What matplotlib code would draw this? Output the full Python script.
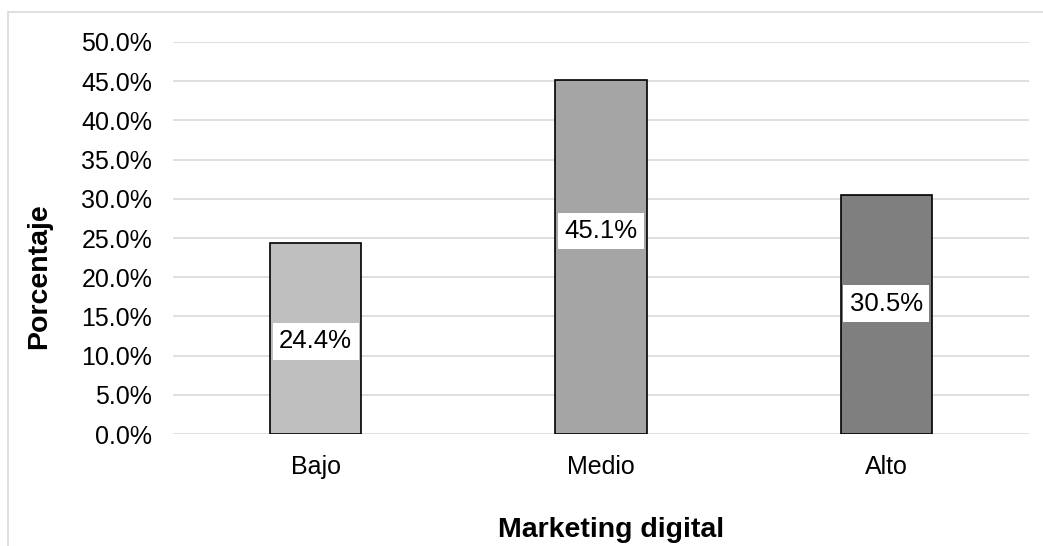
import matplotlib.pyplot as plt
from matplotlib.patches import Rectangle
from matplotlib.ticker import PercentFormatter

plt.rcParams['font.family'] = ['Liberation Sans', 'DejaVu Sans']

categories = ['Bajo', 'Medio', 'Alto']
values = [24.4, 45.1, 30.5]
colors = ['#BFBFBF', '#A5A5A5', '#7F7F7F']
# vertical centre of each data label (Excel placed them a bit off-centre)
label_pos = [11.8, 25.9, 16.6]

fig = plt.figure(figsize=(10.43, 5.46), dpi=100)
ax = fig.add_axes([0.1659, 0.2051, 0.8207, 0.7180])

# outer chart frame
fig.patches.append(Rectangle((8 / 1043, -0.1), 1.2, 1 - 12 / 546 + 0.1,
                             transform=fig.transFigure, fill=False,
                             edgecolor='#D9D9D9', linewidth=1.2))

x = range(len(categories))
ax.bar(x, values, width=0.32, color=colors, edgecolor='black', linewidth=1.2, zorder=3)

for i, v in enumerate(values):
    ax.text(i, label_pos[i], f'{v:.1f}%', ha='center', va='center', fontsize=18.5,
            zorder=4, bbox=dict(boxstyle='square,pad=0.25', facecolor='white', edgecolor='none'))

ax.set_xlim(-0.5, 2.5)
ax.set_ylim(0, 50)
ax.set_yticks([i * 5 for i in range(11)])
ax.yaxis.set_major_formatter(PercentFormatter(decimals=1))
ax.set_xticks(list(x))
ax.set_xticklabels(categories)
ax.tick_params(axis='both', length=0, labelsize=18)
ax.tick_params(axis='x', pad=15)
ax.tick_params(axis='y', pad=15)
ax.grid(axis='y', color='#D9D9D9', linewidth=1.2, zorder=0)
for s in ax.spines.values():
    s.set_visible(False)

ax.set_ylabel('Porcentaje', fontsize=20.5, fontweight='bold')
ax.set_xlabel('Marketing digital', fontsize=20.5, fontweight='bold')
ax.yaxis.set_label_coords(-0.1414, 0.403)
ax.xaxis.set_label_coords(0.5117, -0.212)

plt.savefig('out.png', dpi=100)
